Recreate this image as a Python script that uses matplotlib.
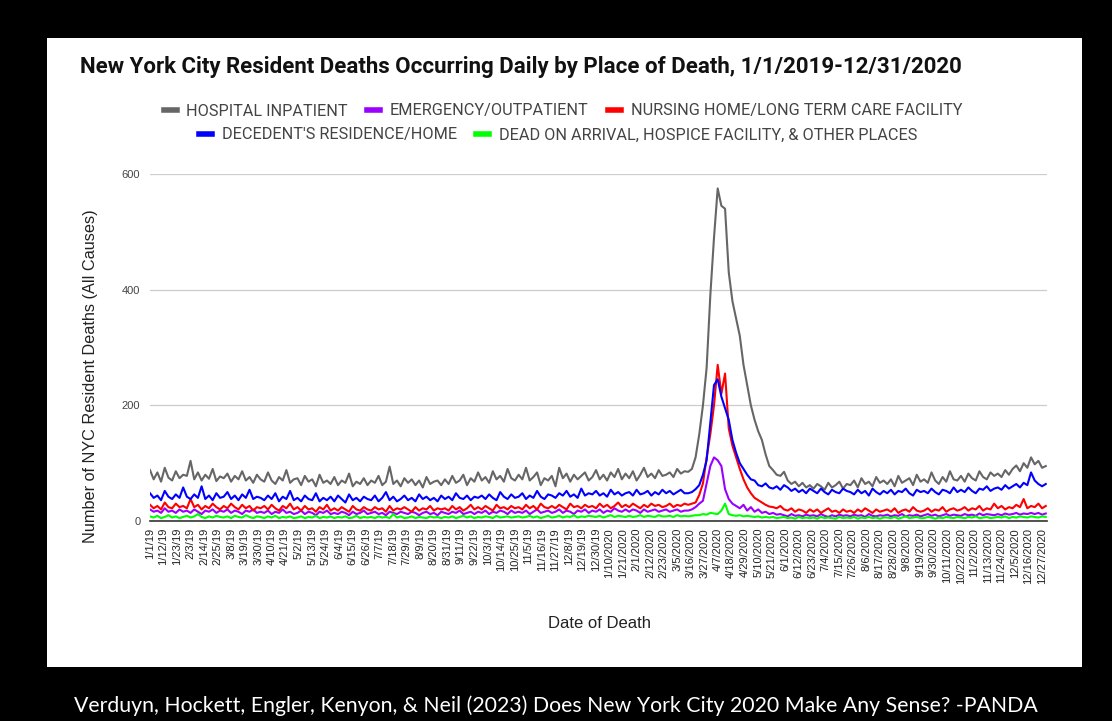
import numpy as np
import pandas as pd
import matplotlib.pyplot as plt
from matplotlib.lines import Line2D
from matplotlib.patches import Rectangle

# one sample every 3rd day starting 1/1/2019 (rows of 10 = 30 days)
day = np.arange(0, 730, 3)

hospital = [
    88, 72, 84, 68, 92, 75, 70, 86, 74, 80,
    78, 104, 72, 84, 70, 80, 73, 90, 69, 77,
    74, 82, 68, 78, 72, 86, 70, 76, 66, 80,
    72, 68, 84, 70, 64, 76, 70, 88, 66, 72,
    74, 62, 78, 68, 72, 60, 80, 66, 70, 64,
    76, 62, 70, 66, 82, 60, 68, 64, 74, 62,
    70, 66, 78, 62, 68, 94, 64, 70, 60, 74,
    66, 72, 62, 70, 58, 76, 64, 68, 70, 62,
    72, 64, 78, 66, 70, 80, 62, 74, 68, 84,
    70, 76, 66, 86, 72, 78, 68, 90, 74, 70,
    80, 72, 92, 70, 76, 84, 62, 74, 70, 78,
    60, 92, 74, 82, 68, 80, 72, 78, 84, 70,
    76, 88, 72, 80, 70, 84, 76, 90, 72, 82,
    74, 86, 70, 80, 92, 76, 82, 74, 88, 78,
    80, 84, 76, 90, 82, 86, 85, 90, 110, 150,
    200, 265, 390, 490, 575, 545, 540, 430, 380, 350,
    320, 270, 235, 200, 175, 155, 140, 115, 95, 88,
    80, 78, 85, 70, 64, 68, 60, 66, 58, 62,
    56, 64, 60, 54, 66, 58, 62, 68, 56, 64,
    62, 70, 58, 74, 64, 68, 60, 76, 66, 70,
    64, 72, 60, 78, 66, 70, 74, 62, 80, 68,
    72, 66, 84, 70, 64, 76, 68, 86, 72, 70,
    78, 68, 82, 74, 70, 86, 76, 72, 84, 78,
    82, 76, 88, 80, 90, 96, 86, 100, 92, 110,
    98, 104, 92, 95,
]

emergency = [
    20, 16, 18, 14, 22, 16, 18, 14, 20, 16,
    18, 14, 20, 16, 12, 18, 16, 20, 14, 18,
    16, 20, 14, 18, 16, 12, 18, 16, 20, 14,
    16, 14, 18, 12, 16, 14, 20, 14, 16, 12,
    14, 18, 12, 16, 14, 10, 16, 14, 18, 12,
    14, 12, 16, 14, 10, 16, 12, 14, 18, 12,
    14, 16, 12, 14, 10, 16, 14, 12, 16, 14,
    12, 16, 14, 10, 14, 16, 12, 14, 10, 16,
    14, 12, 16, 14, 18, 12, 14, 16, 12, 16,
    14, 18, 12, 16, 14, 18, 16, 12, 18, 14,
    16, 14, 18, 12, 16, 20, 14, 16, 18, 14,
    16, 20, 14, 18, 16, 12, 18, 16, 20, 14,
    18, 16, 20, 14, 18, 16, 22, 18, 16, 20,
    16, 20, 18, 14, 20, 16, 18, 20, 16, 18,
    20, 16, 18, 20, 16, 18, 18, 20, 24, 30,
    35, 65, 95, 110, 105, 95, 55, 38, 30, 26,
    22, 28, 18, 24, 16, 20, 14, 16, 12, 14,
    11, 12, 10, 8, 12, 9, 10, 8, 11, 9,
    10, 8, 12, 9, 7, 10, 8, 11, 9, 10,
    8, 11, 9, 10, 7, 12, 9, 8, 10, 9,
    11, 8, 10, 9, 12, 8, 10, 9, 11, 8,
    10, 12, 9, 11, 8, 10, 12, 9, 11, 10,
    9, 12, 10, 11, 9, 13, 10, 12, 11, 10,
    12, 10, 13, 11, 12, 14, 11, 13, 12, 14,
    12, 14, 11, 13,
]

nursing = [
    28, 22, 26, 20, 32, 24, 22, 30, 24, 26,
    22, 38, 24, 28, 20, 26, 22, 30, 24, 20,
    26, 22, 30, 24, 20, 28, 22, 26, 18, 24,
    22, 26, 20, 28, 22, 18, 26, 22, 30, 20,
    24, 18, 26, 20, 22, 16, 24, 20, 28, 18,
    22, 18, 24, 20, 16, 26, 20, 18, 24, 20,
    18, 24, 20, 22, 16, 26, 18, 22, 20, 24,
    20, 16, 24, 18, 22, 20, 26, 18, 22, 20,
    22, 18, 26, 20, 24, 18, 22, 28, 20, 24,
    20, 26, 22, 18, 28, 22, 24, 20, 26, 22,
    24, 20, 28, 22, 26, 20, 30, 24, 22, 26,
    22, 28, 24, 20, 30, 24, 26, 22, 28, 24,
    26, 22, 30, 24, 28, 22, 26, 32, 24, 28,
    24, 30, 26, 22, 28, 24, 30, 26, 28, 24,
    26, 30, 24, 28, 26, 30, 28, 30, 32, 45,
    65, 110, 150, 200, 270, 220, 255, 160, 130, 110,
    90, 72, 58, 48, 40, 36, 32, 28, 25, 24,
    22, 26, 20, 18, 22, 16, 20, 18, 14, 20,
    16, 20, 14, 18, 22, 16, 18, 14, 20, 16,
    18, 14, 20, 16, 22, 18, 14, 20, 16, 18,
    20, 16, 22, 14, 18, 20, 16, 24, 18, 16,
    18, 22, 16, 20, 18, 24, 16, 20, 22, 18,
    20, 24, 18, 22, 20, 26, 18, 22, 20, 30,
    22, 26, 20, 24, 22, 28, 24, 38, 22, 26,
    24, 30, 22, 26,
]

residence = [
    48, 40, 44, 36, 52, 42, 38, 46, 40, 58,
    42, 38, 46, 40, 60, 38, 44, 36, 48, 40,
    42, 50, 38, 44, 36, 46, 40, 54, 38, 42,
    40, 36, 44, 38, 48, 34, 42, 38, 52, 36,
    40, 34, 44, 38, 36, 48, 34, 40, 36, 42,
    34, 44, 38, 32, 46, 36, 40, 34, 42, 38,
    36, 44, 34, 40, 50, 36, 42, 34, 38, 44,
    36, 40, 34, 46, 38, 42, 36, 40, 34, 44,
    38, 42, 36, 48, 40, 38, 44, 36, 42, 40,
    44, 38, 46, 40, 36, 50, 42, 38, 46, 40,
    42, 48, 38, 44, 40, 52, 42, 38, 46, 44,
    40, 48, 44, 52, 42, 46, 40, 56, 44, 48,
    46, 52, 44, 48, 42, 54, 46, 50, 44, 48,
    50, 44, 54, 46, 48, 52, 44, 50, 46, 54,
    48, 52, 46, 50, 54, 48, 48, 50, 55, 62,
    80, 105, 170, 235, 245, 215, 195, 175, 140, 118,
    100, 90, 80, 72, 70, 62, 60, 65, 58, 56,
    60, 54, 62, 58, 52, 56, 50, 54, 48, 56,
    52, 48, 56, 50, 46, 54, 50, 48, 56, 52,
    50, 46, 54, 48, 52, 44, 56, 50, 46, 52,
    48, 54, 46, 52, 50, 56, 48, 44, 54, 50,
    52, 48, 56, 50, 46, 54, 52, 48, 58, 50,
    54, 50, 58, 52, 48, 56, 54, 60, 52, 56,
    58, 54, 62, 56, 60, 64, 58, 66, 62, 84,
    70, 64, 60, 64,
]

other = [
    8, 6, 9, 5, 7, 10, 6, 8, 5, 7,
    9, 6, 8, 12, 7, 5, 8, 6, 9, 7,
    6, 8, 5, 9, 7, 6, 10, 7, 5, 8,
    7, 5, 8, 6, 9, 5, 7, 6, 8, 5,
    6, 8, 5, 7, 6, 9, 5, 7, 6, 8,
    5, 7, 6, 8, 5, 6, 9, 5, 7, 6,
    7, 5, 8, 6, 7, 5, 12, 6, 8, 5,
    6, 8, 5, 7, 6, 5, 8, 6, 7, 5,
    7, 6, 8, 5, 7, 9, 6, 8, 5, 7,
    6, 8, 7, 5, 9, 6, 7, 8, 6, 7,
    8, 6, 7, 9, 6, 8, 5, 7, 9, 6,
    7, 9, 6, 8, 7, 10, 6, 8, 7, 9,
    8, 7, 9, 6, 8, 10, 7, 9, 8, 7,
    9, 7, 8, 10, 7, 9, 8, 7, 10, 8,
    8, 9, 7, 10, 8, 9, 8, 9, 10, 10,
    12, 11, 14, 13, 12, 18, 30, 12, 10, 9,
    10, 8, 9, 8, 7, 8, 6, 7, 6, 7,
    5, 6, 7, 5, 6, 4, 7, 5, 6, 5,
    6, 4, 7, 5, 6, 5, 4, 7, 5, 6,
    5, 7, 4, 6, 5, 7, 5, 6, 4, 6,
    6, 5, 7, 4, 6, 8, 5, 6, 7, 5,
    5, 7, 6, 4, 6, 5, 7, 6, 5, 7,
    6, 5, 7, 6, 8, 5, 6, 7, 5, 6,
    7, 6, 8, 5, 7, 6, 8, 7, 6, 8,
    7, 6, 8, 7,
]

names = ["HOSPITAL INPATIENT", "EMERGENCY/OUTPATIENT",
         "NURSING HOME/LONG TERM CARE FACILITY",
         "DECEDENT'S RESIDENCE/HOME",
         "DEAD ON ARRIVAL, HOSPICE FACILITY, & OTHER PLACES"]
colors = ["#666666", "#9900ff", "#ff0000", "#0000ff", "#00ff00"]
series = [hospital, emergency, nursing, residence, other]

# x tick labels every 11 days
dates = pd.date_range("2019-01-01", "2020-12-31")
tick_days = np.arange(0, len(dates), 11)
tick_labels = [f"{dates[i].month}/{dates[i].day}/"
               + (dates[i].strftime("%y") if dates[i].year == 2019 else str(dates[i].year))
               for i in tick_days]

fig = plt.figure(figsize=(11.12, 7.21), dpi=100, facecolor="black")
W, H = 1112, 721

def fx(px):
    return px / W

def fy(py):
    return 1 - py / H

# white panel behind everything
fig.patches.append(Rectangle((fx(47), fy(667)), fx(1082) - fx(47), fy(38) - fy(667),
                             transform=fig.transFigure, facecolor="white",
                             edgecolor="none", zorder=-10))

ax = fig.add_axes([fx(150), fy(521), fx(1047) - fx(150), fy(174) - fy(521)])
ax.patch.set_alpha(0)
for name, vals, c in zip(names, series, colors):
    ax.plot(day, vals, color=c, lw=1.5, label=name)

ax.set_xlim(0, 730)
ax.set_ylim(0, 600)
ax.set_yticks([0, 200, 400, 600])
ax.yaxis.grid(True, color="#cccccc", lw=0.9)
ax.set_axisbelow(True)
for s in ["top", "right", "left"]:
    ax.spines[s].set_visible(False)
ax.spines["bottom"].set_color("#333333")
ax.spines["bottom"].set_linewidth(1.2)
ax.spines["bottom"].set_zorder(5)
ax.tick_params(axis="y", length=0, pad=7, labelsize=8, labelcolor="#444444")
ax.set_xticks(tick_days)
ax.set_xticklabels(tick_labels, rotation=90, fontsize=8, family="Liberation Sans",
                   color="#222222")
ax.tick_params(axis="x", length=0, pad=5)
for lab in ax.get_yticklabels():
    lab.set_family("Liberation Sans")

fig.text(fx(80), fy(67), "New York City Resident Deaths Occurring Daily by Place of Death, 1/1/2019-12/31/2020",
         ha="left", va="center", fontsize=16, fontweight="bold", family="Roboto", color="#111111")

fig.text(fx(91), fy(376), "Number of NYC Resident Deaths (All Causes)", rotation=90,
         ha="center", va="center", fontsize=11.7, family="Liberation Sans", color="#222222")
fig.text(fx(600), fy(624), "Date of Death", ha="center", va="center",
         fontsize=12, family="Liberation Sans", color="#222222")

handles = [Line2D([], [], color=c, lw=4) for c in colors]
leg1 = fig.legend(handles[:3], names[:3], ncol=3, loc="center", bbox_to_anchor=(fx(563), fy(111)),
                  frameon=False, handlelength=0.8, handletextpad=0.6, columnspacing=1.2,
                  prop={"family": "Roboto", "size": 11.7})
leg2 = fig.legend(handles[3:], names[3:], ncol=2, loc="center", bbox_to_anchor=(fx(558), fy(135)),
                  frameon=False, handlelength=0.8, handletextpad=0.6, columnspacing=1.2,
                  prop={"family": "Roboto", "size": 11.7})
for leg in (leg1, leg2):
    for t in leg.get_texts():
        t.set_color("#444444")

fig.text(0.5, fy(706), "Verduyn, Hockett, Engler, Kenyon, & Neil (2023) Does New York City 2020 Make Any Sense? -PANDA",
         ha="center", va="center", fontsize=15.3, family="Lato", color="white")

fig.savefig("out.png", dpi=100, facecolor="black")
